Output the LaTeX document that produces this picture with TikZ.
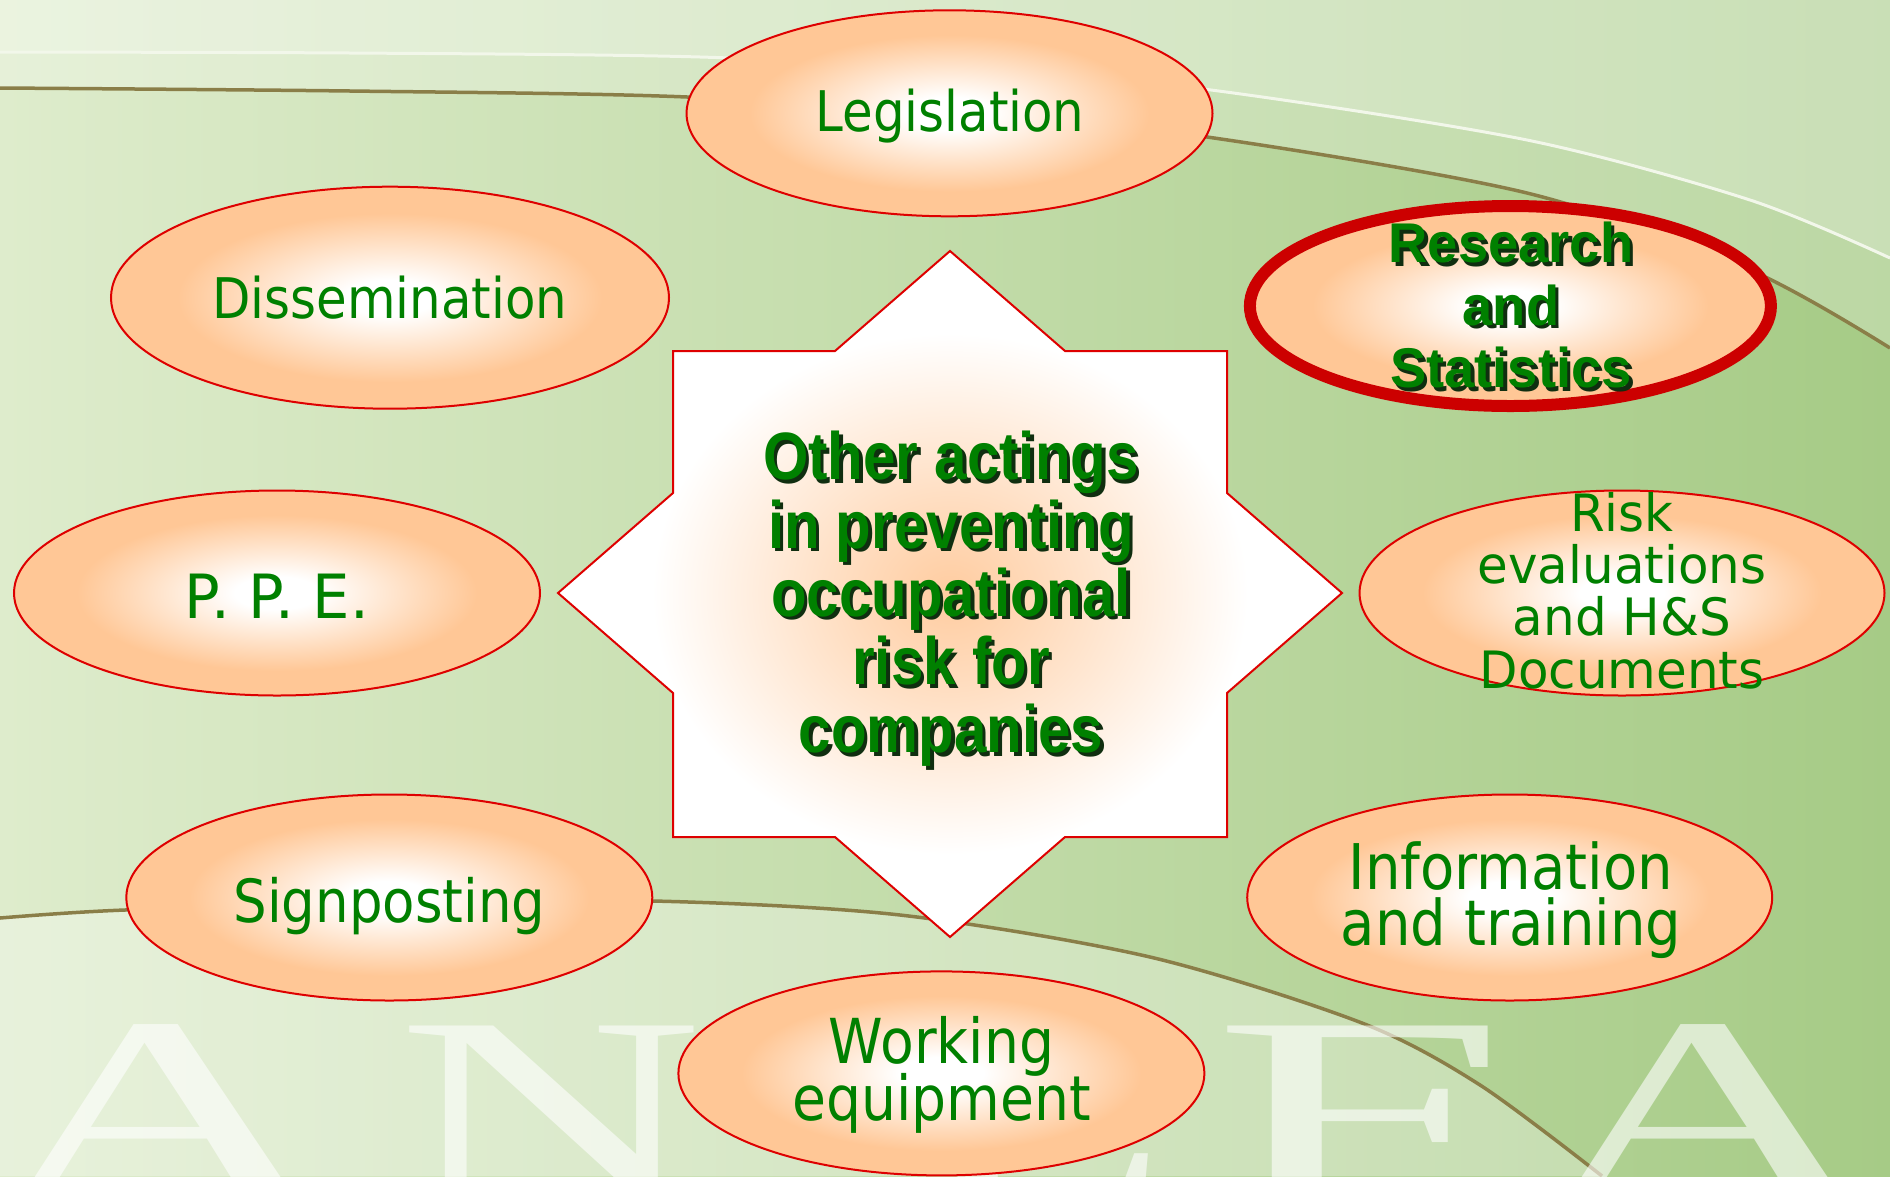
\documentclass[tikz,border=0pt]{standalone}
\usepackage{fontspec}
\usetikzlibrary{shapes.geometric}
\newfontfamily\lblfont[FakeStretch=0.89]{DejaVu Sans}
\newfontfamily\lblfontw[FakeStretch=0.97]{DejaVu Sans}
\newfontfamily\bldfont[FakeStretch=0.87]{Liberation Sans}
\newfontfamily\bldfontw[FakeStretch=0.97]{Liberation Sans}
\newfontfamily\wmfont{Liberation Serif}
\definecolor{peach}{RGB}{255,199,150}
\definecolor{peachc}{RGB}{255,204,160}
\colorlet{peachm}{peachc!70!white}
\definecolor{txtgreen}{RGB}{0,128,0}
\definecolor{shadowc}{RGB}{16,46,16}
\definecolor{bordred}{RGB}{222,0,0}
\definecolor{thickred}{RGB}{204,0,0}
\definecolor{bgleft}{RGB}{222,236,204}
\definecolor{bgright}{RGB}{166,203,134}
\definecolor{brownline}{RGB}{138,126,72}
\definecolor{whiteline}{RGB}{242,247,234}
\pgfdeclareradialshading{ellshade}{\pgfpoint{0bp}{0bp}}{color(0bp)=(white); color(4bp)=(white); color(19bp)=(peach); color(25bp)=(peach); color(50bp)=(peach)}
\pgfdeclareradialshading{starshade}{\pgfpoint{0bp}{0bp}}{color(0bp)=(peachc); color(6bp)=(peachm); color(19bp)=(white); color(50bp)=(white)}
\tikzset{
  ell/.style={ellipse, draw=bordred, line width=2pt, shading=ellshade, inner sep=0pt},
  lbl/.style={text=txtgreen, inner sep=0pt, align=center},
  bld/.style={text=txtgreen, inner sep=0pt, align=center},
  shd/.style={text=shadowc, inner sep=0pt, align=center},
  wm/.style={text=white, text opacity=0.6, inner sep=0pt, anchor=base, font={\wmfont\fontsize{265}{265}\selectfont}},
}
\begin{document}
\begin{tikzpicture}[x=1pt,y=-1pt]
\useasboundingbox (0,0) rectangle (1890,1176);
% background
\fill[left color=bgleft, right color=bgright] (0,0) rectangle (1890,1176);
\fill[white, opacity=0.25] (0,0) -- plot[smooth] coordinates {(0,88) (350,91) (687,97) (1000,118) (1207,137) (1527,193) (1750,270) (1890,348)} -- (1890,0) -- cycle;
\fill[white, opacity=0.2] (0,0) -- plot[smooth] coordinates {(0,52) (350,53) (700,57) (1000,72) (1211,90) (1527,140) (1750,200) (1890,258)} -- (1890,0) -- cycle;
\fill[white, opacity=0.3] (0,1176) -- plot[smooth] coordinates {(0,918) (125,910) (400,903) (653,901) (900,915) (1150,957) (1362,1023) (1480,1085) (1602,1176)} -- cycle;
\draw[whiteline, line width=3pt] plot[smooth] coordinates {(0,52) (350,53) (700,57) (1000,72) (1211,90) (1527,140) (1750,200) (1890,258)};
\draw[brownline, line width=3.5pt] plot[smooth] coordinates {(0,88) (350,91) (687,97) (1000,118) (1207,137) (1527,193) (1750,270) (1890,348)};
\draw[brownline, line width=3.5pt] plot[smooth] coordinates {(0,918) (125,910) (400,903) (653,901) (900,915) (1150,957) (1362,1023) (1480,1085) (1602,1176)};
% watermark
\begin{scope}
\clip (0,0) rectangle (1890,1176);
\node[wm] (wmA) at (160,1199) {\scalebox{1.8}[1]{A}};
\node[wm] (wmN) at (551,1199) {\scalebox{1.6}[1]{N}};
\node[wm] (wmE) at (1040,1199) {\scalebox{1.6}[1]{E}};
\node[wm] (wmF) at (1360,1199) {\scalebox{2.0}[1]{F}};
\node[wm] (wmA2) at (1707,1199) {\scalebox{1.8}[1]{A}};
\end{scope}
% central star
\path[draw=bordred, line width=2pt, shading=starshade] (950,251) -- (835,351) -- (673,351) -- (673,493) -- (558,593) -- (673,693) -- (673,837) -- (835,837) -- (950,937) -- (1065,837) -- (1227,837) -- (1227,693) -- (1342,593) -- (1227,493) -- (1227,351) -- (1065,351) -- cycle;
\node[shd, font={\bldfont\bfseries\fontsize{67}{68.25}\selectfont\lineskiplimit=-500pt}] (ctrS) at (954.5,602.5) {Other actings\\in preventing\\occupational\\risk for\\companies};
\node[bld, font={\bldfont\bfseries\fontsize{67}{68.25}\selectfont\lineskiplimit=-500pt}] (ctr) at (951,599) {Other actings\\in preventing\\occupational\\risk for\\companies};
% ellipses
\node[ell, minimum width=526pt, minimum height=206pt] (leg) at (949.5,113.3) {};
\node[ell, minimum width=558pt, minimum height=222pt] (dis) at (390,297.7) {};
\node[ell, draw=thickred, line width=12pt, minimum width=521pt, minimum height=200pt] (res) at (1510.4,306) {};
\node[ell, minimum width=526pt, minimum height=205pt] (ppe) at (277,593) {};
\node[ell, minimum width=525pt, minimum height=205pt] (risk) at (1622,593) {};
\node[ell, minimum width=526pt, minimum height=206pt] (sign) at (389.3,897.5) {};
\node[ell, minimum width=525pt, minimum height=206pt] (info) at (1509.7,897.5) {};
\node[ell, minimum width=526pt, minimum height=204pt] (work) at (941.4,1073.4) {};
% labels
\node[lbl, anchor=base, font={\lblfont\fontsize{56}{56}\selectfont}] (legT) at (950,131) {Legislation};
\node[lbl, anchor=base, font={\lblfont\fontsize{56}{56}\selectfont}] (disT) at (390,318) {Dissemination};
\node[lbl, anchor=base, font={\lblfontw\fontsize{61}{61}\selectfont}] (ppeT) at (277,618) {P. P. E.};
\node[lbl, anchor=base, font={\lblfont\fontsize{59.5}{59.5}\selectfont}] (signT) at (389.5,922) {Signposting};
\node[lbl, font={\lblfont\fontsize{63}{56.7}\selectfont\lineskiplimit=-500pt}] (infoT) at (1511,900.2) {Information\\and training};
\node[lbl, font={\lblfont\fontsize{62}{57}\selectfont\lineskiplimit=-500pt}] (workT) at (941.5,1075) {Working\\equipment};
\node[lbl, font={\lblfontw\fontsize{51.5}{52.2}\selectfont\lineskiplimit=-500pt}] (riskT) at (1622,590.5) {Risk\\evaluations\\and H\&S\\Documents};
\node[shd, font={\bldfontw\bfseries\fontsize{56}{62.5}\selectfont\lineskiplimit=-500pt}] (resS) at (1514.5,308.9) {Research\\and\\Statistics};
\node[bld, font={\bldfontw\bfseries\fontsize{56}{62.5}\selectfont\lineskiplimit=-500pt}] (resT) at (1511,305.4) {Research\\and\\Statistics};
\end{tikzpicture}
\end{document}
